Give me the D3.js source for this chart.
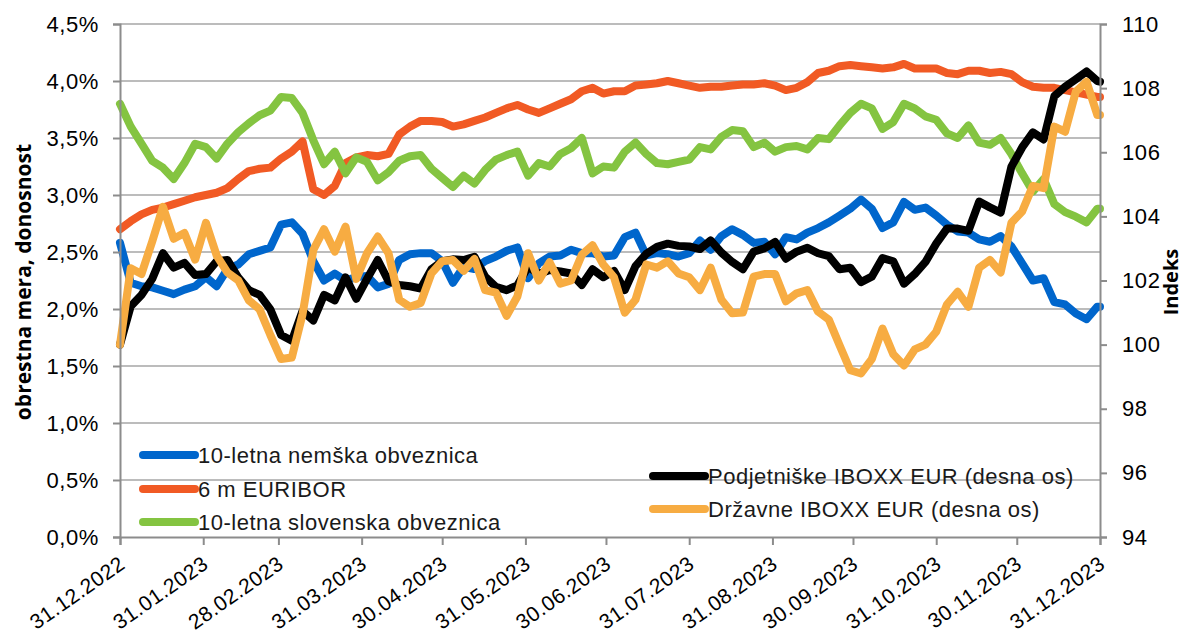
<!DOCTYPE html>
<html>
<head>
<meta charset="utf-8">
<script src="https://cdn.jsdelivr.net/npm/d3@7"></script>
<style>
  body { margin: 0; background: #fff; }
  .chart text { font-family: "Liberation Sans", Arial, sans-serif; fill: #000; }
</style>
</head>
<body>
<div class="chart"></div>
<script>
//Values, one point every 4 days.
var dates = ["2022-12-31","2023-01-04","2023-01-08","2023-01-12","2023-01-16","2023-01-20","2023-01-24","2023-01-28",
  "2023-02-01","2023-02-05","2023-02-09","2023-02-13","2023-02-17","2023-02-21","2023-02-25","2023-03-01",
  "2023-03-05","2023-03-09","2023-03-13","2023-03-17","2023-03-21","2023-03-25","2023-03-29","2023-04-02",
  "2023-04-06","2023-04-10","2023-04-14","2023-04-18","2023-04-22","2023-04-26","2023-04-30","2023-05-04",
  "2023-05-08","2023-05-12","2023-05-16","2023-05-20","2023-05-24","2023-05-28","2023-06-01","2023-06-05",
  "2023-06-09","2023-06-13","2023-06-17","2023-06-21","2023-06-25","2023-06-29","2023-07-03","2023-07-07",
  "2023-07-11","2023-07-15","2023-07-19","2023-07-23","2023-07-27","2023-07-31","2023-08-04","2023-08-08",
  "2023-08-12","2023-08-16","2023-08-20","2023-08-24","2023-08-28","2023-09-01","2023-09-05","2023-09-09",
  "2023-09-13","2023-09-17","2023-09-21","2023-09-25","2023-09-29","2023-10-03","2023-10-07","2023-10-11",
  "2023-10-15","2023-10-19","2023-10-23","2023-10-27","2023-10-31","2023-11-04","2023-11-08","2023-11-12",
  "2023-11-16","2023-11-20","2023-11-24","2023-11-28","2023-12-02","2023-12-06","2023-12-10","2023-12-14",
  "2023-12-18","2023-12-22","2023-12-26","2023-12-30","2023-12-31"];

//10-letna nemška obveznica (%)
var nemska = [2.58,2.23,2.20,2.19,2.16,2.13,2.17,2.20,2.28,2.20,2.35,2.39,2.48,2.51,2.54,2.74,
  2.76,2.66,2.42,2.25,2.31,2.25,2.28,2.29,2.19,2.22,2.43,2.48,2.49,2.49,2.42,2.23,
  2.37,2.35,2.42,2.46,2.51,2.54,2.27,2.40,2.46,2.47,2.52,2.49,2.49,2.46,2.47,2.63,
  2.67,2.47,2.49,2.48,2.46,2.49,2.60,2.52,2.64,2.70,2.65,2.58,2.59,2.48,2.63,2.61,
  2.67,2.71,2.76,2.82,2.88,2.96,2.88,2.71,2.76,2.94,2.87,2.89,2.82,2.74,2.68,2.67,
  2.61,2.59,2.64,2.55,2.40,2.25,2.27,2.06,2.04,1.96,1.91,2.02,2.02];

//6 m EURIBOR (%)
var euribor = [2.70,2.77,2.83,2.87,2.89,2.92,2.95,2.98,3.00,3.02,3.06,3.14,3.21,3.23,3.24,3.32,
  3.38,3.47,3.05,3.00,3.08,3.28,3.33,3.35,3.34,3.36,3.53,3.60,3.65,3.65,3.64,3.60,
  3.62,3.65,3.68,3.72,3.76,3.79,3.75,3.72,3.76,3.80,3.84,3.91,3.94,3.89,3.91,3.91,
  3.96,3.97,3.98,4.00,3.98,3.96,3.94,3.95,3.95,3.96,3.97,3.97,3.98,3.96,3.92,3.94,
  3.99,4.07,4.09,4.13,4.14,4.13,4.12,4.11,4.12,4.15,4.11,4.11,4.11,4.07,4.06,4.09,
  4.09,4.07,4.08,4.06,3.99,3.95,3.94,3.94,3.92,3.90,3.88,3.86,3.86];

//10-letna slovenska obveznica (%)
var slovenska = [3.80,3.60,3.45,3.30,3.24,3.14,3.28,3.45,3.42,3.32,3.45,3.55,3.63,3.70,3.74,3.86,
  3.85,3.72,3.48,3.27,3.38,3.19,3.33,3.29,3.13,3.20,3.30,3.34,3.35,3.23,3.15,3.07,
  3.17,3.10,3.22,3.31,3.35,3.38,3.17,3.28,3.25,3.36,3.41,3.50,3.19,3.25,3.24,3.38,
  3.46,3.36,3.28,3.27,3.29,3.31,3.42,3.40,3.51,3.57,3.56,3.42,3.46,3.38,3.42,3.43,
  3.40,3.50,3.49,3.61,3.72,3.80,3.76,3.58,3.64,3.80,3.76,3.69,3.66,3.54,3.50,3.61,
  3.46,3.44,3.50,3.36,3.19,3.03,3.14,2.92,2.85,2.81,2.76,2.88,2.88];

//Podjetniške IBOXX EUR (indeks, desna os)
var podjetniske = [100.00,101.20,101.55,102.05,102.85,102.40,102.55,102.17,102.20,102.60,102.64,102.10,101.70,101.55,101.10,100.30,
  100.12,101.05,100.75,101.55,101.38,102.10,101.43,102.05,102.64,101.98,101.86,101.82,101.75,102.35,102.60,102.66,
  102.64,102.74,102.12,101.80,101.70,101.85,102.43,102.20,102.33,102.28,102.22,101.86,102.35,102.10,102.30,101.70,
  102.45,102.83,103.05,103.15,103.08,103.06,102.98,103.25,102.87,102.58,102.35,102.90,103.00,103.20,102.68,102.90,
  103.02,102.85,102.76,102.35,102.40,101.95,102.12,102.70,102.60,101.90,102.20,102.58,103.15,103.62,103.62,103.55,
  104.46,104.28,104.12,105.55,106.15,106.62,106.40,107.75,108.04,108.28,108.52,108.22,108.20];

//Državne IBOXX EUR (indeks, desna os)
var drzavne = [100.00,102.38,102.20,103.22,104.30,103.30,103.48,102.65,103.80,102.78,102.25,102.01,101.38,101.10,100.30,99.55,
  99.60,100.95,102.95,103.60,102.90,103.68,102.05,102.85,103.37,102.85,101.40,101.18,101.30,102.22,102.60,102.64,
  102.30,102.67,101.70,101.62,100.90,101.50,102.85,102.00,102.57,101.90,102.00,102.80,103.10,102.50,102.10,101.00,
  101.40,102.50,102.40,102.60,102.22,102.10,101.70,102.40,101.40,100.98,101.00,102.12,102.20,102.20,101.35,101.60,
  101.70,101.03,100.78,99.98,99.20,99.10,99.55,100.50,99.70,99.35,99.85,100.00,100.40,101.25,101.65,101.18,
  102.40,102.64,102.25,103.80,104.15,104.95,104.88,106.80,106.64,107.89,108.20,107.16,107.16];

var xTicks = ["2022-12-31","2023-01-31","2023-02-28","2023-03-31","2023-04-30","2023-05-31","2023-06-30",
  "2023-07-31","2023-08-31","2023-09-30","2023-10-31","2023-11-30","2023-12-31"];
var leftTicks = [0,0.5,1,1.5,2,2.5,3,3.5,4,4.5];
var rightTicks = [94,96,98,100,102,104,106,108,110];
var seriesNames = ["10-letna nemška obveznica","6 m EURIBOR","10-letna slovenska obveznica",
  "Podjetniške IBOXX EUR (desna os)","Državne IBOXX EUR (desna os)"];

//Define the SVG area dimensions and margins.
var svgWidth = 1184;
var svgHeight = 642;
var margin = { top: 24, right: 84, bottom: 105, left: 120 };
var chartWidth = svgWidth - margin.left - margin.right;
var chartHeight = svgHeight - margin.top - margin.bottom;

var colors = ["#0066cc", "#f15a24", "#84c441", "#000000", "#f7ac42"];
var parseDate = d3.utcParse("%Y-%m-%d");

//Build the series table from the arrays above.
var series = [
  { name: seriesNames[0], values: nemska, axis: "left", color: colors[0] },
  { name: seriesNames[1], values: euribor, axis: "left", color: colors[1] },
  { name: seriesNames[2], values: slovenska, axis: "left", color: colors[2] },
  { name: seriesNames[3], values: podjetniske, axis: "right", color: colors[3] },
  { name: seriesNames[4], values: drzavne, axis: "right", color: colors[4] }
];

var svg = d3.select(".chart")
  .append("svg")
  .attr("width", svgWidth)
  .attr("height", svgHeight);

var chart = svg.append("g")
  .attr("transform", "translate(" + margin.left + "," + margin.top + ")");

//Scales.
var xScale = d3.scaleUtc()
  .domain([parseDate(dates[0]), parseDate(dates[dates.length - 1])])
  .range([0, chartWidth]);
var yLeft = d3.scaleLinear().domain([0, 4.5]).range([chartHeight, 0]);
var yRight = d3.scaleLinear().domain([94, 110]).range([chartHeight, 0]);

//Horizontal gridlines.
chart.append("g")
  .selectAll("line")
  .data(leftTicks.slice(1))
  .enter().append("line")
    .attr("x1", 0)
    .attr("x2", chartWidth)
    .attr("y1", function(d) { return yLeft(d); })
    .attr("y2", function(d) { return yLeft(d); })
    .attr("stroke", "#a6a6a6")
    .attr("stroke-width", 1.5);

//Legend.
var legendPos = [[23, 431], [23, 465], [23, 498], [533, 452], [533, 485]];
var legend = chart.append("g")
  .selectAll("g")
  .data(series)
  .enter().append("g")
    .attr("transform", function(d, i) { return "translate(" + legendPos[i][0] + "," + legendPos[i][1] + ")"; });

legend.append("line")
  .attr("x1", 0)
  .attr("x2", 52)
  .attr("stroke", function(d) { return d.color; })
  .attr("stroke-width", 8)
  .attr("stroke-linecap", "round");

legend.append("text")
  .attr("x", 55)
  .attr("y", 8)
  .style("font-size", "22px")
  .style("letter-spacing", "0.5px")
  .style("fill", "#1a1a1a")
  .text(function(d) { return d.name; });

//Lines.
series.forEach(function(s) {
  var yScale = s.axis === "left" ? yLeft : yRight;
  var line = d3.line()
    .x(function(d, i) { return xScale(parseDate(dates[i])); })
    .y(function(d) { return yScale(d); });
  chart.append("path")
    .datum(s.values)
    .attr("fill", "none")
    .attr("stroke", s.color)
    .attr("stroke-width", 8)
    .attr("stroke-linejoin", "round")
    .attr("stroke-linecap", "round")
    .attr("d", line);
});

//Axes.
var leftAxis = d3.axisLeft(yLeft)
  .tickValues(leftTicks)
  .tickSize(7)
  .tickPadding(14)
  .tickFormat(function(d) { return d.toFixed(1).replace(".", ",") + "%"; });

var rightAxis = d3.axisRight(yRight)
  .tickValues(rightTicks)
  .tickSize(7)
  .tickPadding(15);

var bottomAxis = d3.axisBottom(xScale)
  .tickValues(xTicks.map(parseDate))
  .tickSize(8)
  .tickFormat(d3.utcFormat("%d.%m.%Y"));

var gLeft = chart.append("g").call(leftAxis);
var gRight = chart.append("g")
  .attr("transform", "translate(" + chartWidth + ",0)")
  .call(rightAxis);
var gBottom = chart.append("g")
  .attr("transform", "translate(0," + chartHeight + ")")
  .call(bottomAxis);

[gLeft, gRight, gBottom].forEach(function(g) {
  g.selectAll(".domain, .tick line").attr("stroke", "#8c8c8c").attr("stroke-width", 2);
  g.selectAll("text")
    .attr("fill", "#000")
    .style("font-size", "22px")
    .style("letter-spacing", "0.6px")
    .style("font-family", "'Liberation Sans', Arial, sans-serif");
});

gBottom.selectAll("text")
  .attr("x", 0)
  .attr("y", 0)
  .attr("dy", 0)
  .style("font-size", "21px")
  .style("letter-spacing", "0.5px")
  .attr("text-anchor", "end")
  .attr("transform", "translate(6,30) rotate(-35)");

//Axis titles.
svg.append("text")
  .attr("transform", "translate(31,282) rotate(-90)")
  .attr("text-anchor", "middle")
  .style("font-family", "'Open Sans', sans-serif")
  .style("font-weight", "bold")
  .style("font-size", "21px")
  .text("obrestna mera, donosnost");

svg.append("text")
  .attr("transform", "translate(1178,282) rotate(-90)")
  .attr("text-anchor", "middle")
  .style("font-family", "'Open Sans', sans-serif")
  .style("font-weight", "bold")
  .style("font-size", "20px")
  .text("Indeks");
</script>
</body>
</html>
